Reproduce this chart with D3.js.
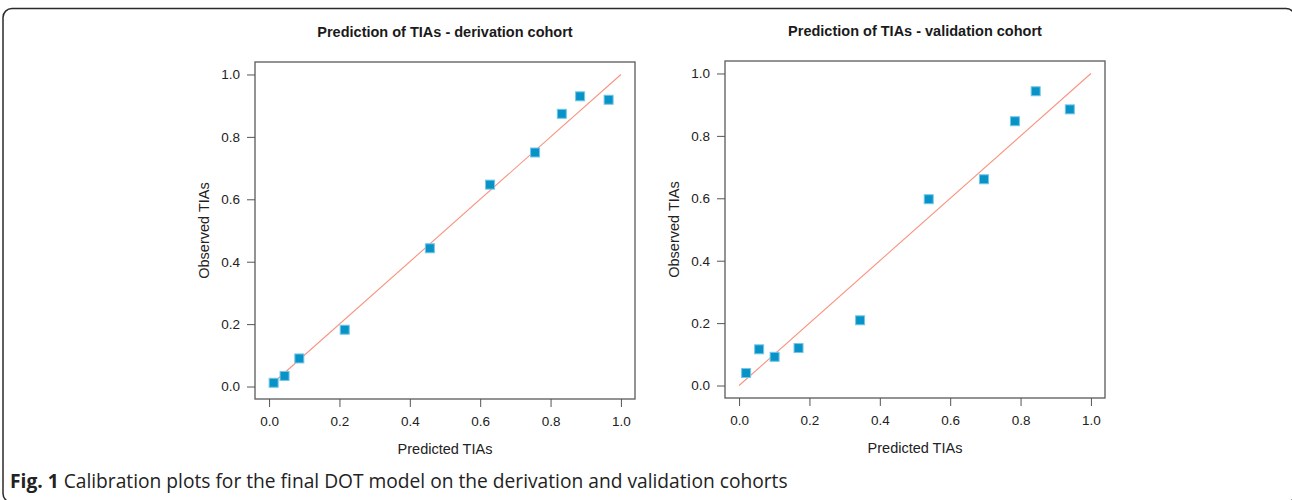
<!DOCTYPE html>
<html>
<head>
<meta charset="utf-8">
<script src="https://cdn.jsdelivr.net/npm/d3@7"></script>
<style>
  body { margin: 0; background: #fff; }
  svg { display: block; }
</style>
</head>
<body>
<div id="chart"></div>
<script>
// data
const ticks = [0, 0.2, 0.4, 0.6, 0.8, 1.0];

const derivationPred = [0.013, 0.044, 0.086, 0.215, 0.457, 0.628, 0.756, 0.832, 0.884, 0.965];
const derivationObs  = [0.012, 0.034, 0.090, 0.182, 0.443, 0.647, 0.750, 0.874, 0.930, 0.919];

const validationPred = [0.020, 0.057, 0.101, 0.169, 0.344, 0.539, 0.696, 0.784, 0.843, 0.940];
const validationObs  = [0.040, 0.116, 0.092, 0.120, 0.209, 0.597, 0.661, 0.847, 0.943, 0.885];

const titles = ['Prediction of TIAs - derivation cohort', 'Prediction of TIAs - validation cohort'];
const xLabel = 'Predicted TIAs';
const yLabel = 'Observed TIAs';

const width = 1292, height = 500;
const svg = d3.select('#chart').append('svg').attr('width', width).attr('height', height);

//outer frame (rounded, bottom/right run to the edge)
svg.append('rect')
  .attr('x', 3).attr('y', 8.5)
  .attr('width', 1292).attr('height', 494)
  .attr('rx', 9)
  .attr('fill', 'none')
  .attr('stroke', '#2b2b2b')
  .attr('stroke-width', 1.5);

const font = 'Arial, "Liberation Sans", sans-serif';

function drawPanel(box, pred, obs, title){
  const xScale = d3.scaleLinear([-0.04, 1.04], [box.x0, box.x1]);
  const yScale = d3.scaleLinear([-0.04, 1.04], [box.y1, box.y0]);
  const g = svg.append('g');

  //diagonal reference line
  g.append('line')
    .attr('x1', xScale(0)).attr('y1', yScale(0))
    .attr('x2', xScale(1)).attr('y2', yScale(1))
    .attr('stroke', '#f8937f').attr('stroke-width', 1.1);

  //points
  const pts = pred.map((p, i) => ({p: p, o: obs[i]}));
  g.selectAll('.pt').data(pts).join('rect')
    .attr('class', 'pt')
    .attr('x', d => xScale(d.p) - 4.5)
    .attr('y', d => yScale(d.o) - 4.5)
    .attr('width', 9).attr('height', 9)
    .attr('fill', '#0793c7')
    .attr('stroke', '#74c7e6')
    .attr('stroke-width', 1);

  //box
  g.append('rect')
    .attr('x', box.x0).attr('y', box.y0)
    .attr('width', box.x1 - box.x0).attr('height', box.y1 - box.y0)
    .attr('fill', 'none').attr('stroke', '#666').attr('stroke-width', 1.4);

  const styleAxis = a => {
    a.select('.domain').remove();
    a.selectAll('.tick line').attr('stroke', '#555');
    a.selectAll('.tick text')
      .attr('font-family', font).attr('font-size', 13.5).attr('fill', '#222');
  };

  const xAxis = d3.axisBottom(xScale).tickValues(ticks).tickFormat(d3.format('.1f'))
    .tickSize(8).tickPadding(9);
  g.append('g').attr('transform', `translate(0,${box.y1})`).call(xAxis).call(styleAxis);

  const yAxis = d3.axisLeft(yScale).tickValues(ticks).tickFormat(d3.format('.1f'))
    .tickSize(8).tickPadding(7);
  g.append('g').attr('transform', `translate(${box.x0},0)`).call(yAxis).call(styleAxis);

  const cx = (box.x0 + box.x1) / 2;
  const cy = (box.y0 + box.y1) / 2;

  g.append('text')
    .attr('x', cx).attr('y', box.y0 - 25)
    .attr('text-anchor', 'middle')
    .attr('font-family', font).attr('font-weight', 'bold').attr('font-size', 14.5)
    .attr('fill', '#1a1a1a')
    .text(title);

  g.append('text')
    .attr('x', cx).attr('y', box.y1 + 55)
    .attr('text-anchor', 'middle')
    .attr('font-family', font).attr('font-size', 14.5).attr('fill', '#222')
    .text(xLabel);

  g.append('text')
    .attr('transform', `translate(${box.x0 - 46},${cy}) rotate(-90)`)
    .attr('text-anchor', 'middle')
    .attr('font-family', font).attr('font-size', 14.5).attr('fill', '#222')
    .text(yLabel);
}

drawPanel({x0: 255, x1: 635, y0: 62, y1: 399}, derivationPred, derivationObs, titles[0]);
drawPanel({x0: 725, x1: 1105, y0: 61, y1: 398}, validationPred, validationObs, titles[1]);

//caption
const cap = svg.append('text')
  .attr('x', 10).attr('y', 488)
  .attr('font-family', '"Open Sans", "Noto Sans", sans-serif')
  .attr('font-size', 19.2)
  .attr('fill', '#222');
cap.append('tspan').attr('font-weight', 'bold').text('Fig. 1');
cap.append('tspan').text(' Calibration plots for the final DOT model on the derivation and validation cohorts');
</script>
</body>
</html>
